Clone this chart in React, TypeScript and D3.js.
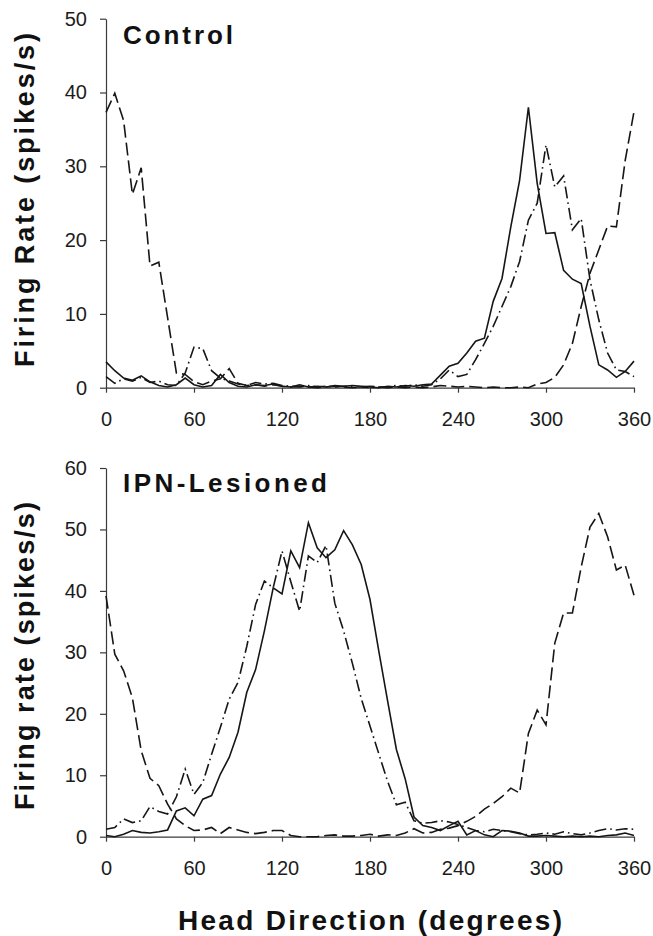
import React, { useRef, useEffect } from "react";
import * as d3 from "d3";

// head direction bins (degrees)
const degrees = [
  0, 6, 12, 18, 24, 30, 36, 42, 48, 54, 60, 66, 72, 78, 84, 90, 96, 102, 108, 114,
  120, 126, 132, 138, 144, 150, 156, 162, 168, 174, 180, 186, 192, 198, 204, 210, 216, 222, 228, 234,
  240, 246, 252, 258, 264, 270, 276, 282, 288, 294, 300, 306, 312, 318, 324, 330, 336, 342, 348, 354, 360,
];

// Control panel (spikes/s)
const controlSolid = [
  3.5, 2.3, 1.3, 1.0, 1.6, 0.8, 0.3, 0.1, 0.4, 1.3,
  0.4, 0.1, 0.3, 1.8, 0.7, 0.2, 0.1, 0.4, 0.3, 0.5,
  0.2, 0.1, 0.4, 0.1, 0.2, 0.1, 0.3, 0.2, 0.3, 0.2,
  0.1, 0.0, 0.2, 0.1, 0.3, 0.2, 0.4, 0.5, 1.7, 2.9,
  3.3, 4.7, 6.3, 6.7, 11.7, 14.8, 21.8, 28.1, 38.0, 27.7,
  20.9, 21.0, 15.9, 14.7, 14.1, 8.3, 3.1, 2.4, 1.4, 2.2,
  3.6,
];
const controlDashDot = [
  1.5, 0.6, 1.2, 0.9, 1.4, 0.7, 0.9, 0.4, 0.3, 2.0,
  5.5, 5.3, 2.3, 1.3, 0.9, 0.5, 0.3, 0.7, 0.5, 0.6,
  0.3, 0.2, 0.1, 0.3, 0.1, 0.2, 0.1, 0.2, 0.1, 0.1,
  0.0, 0.1, 0.1, 0.3, 0.2, 0.4, 0.2, 0.4, 1.2, 2.4,
  1.5, 1.8, 3.8, 6.0, 8.3, 11.0, 13.7, 17.1, 22.7, 25.0,
  32.9, 27.2, 28.7, 21.4, 22.9, 14.6, 9.2, 4.7, 2.4, 2.2,
  1.5,
];
const controlDashed = [
  37.3, 39.9, 36.2, 26.2, 29.8, 16.5, 17.0, 9.5, 2.0, 1.8,
  0.8, 0.4, 0.9, 1.2, 2.6, 0.6, 0.3, 0.4, 0.2, 0.4,
  0.2, 0.1, 0.2, 0.1, 0.0, 0.1, 0.2, 0.1, 0.0, 0.1,
  0.2, 0.1, 0.0, 0.1, 0.0, 0.1, 0.0, 0.1, 0.3, 0.2,
  0.1, 0.2, 0.1, 0.0, 0.1, 0.0, 0.0, 0.1, 0.0, 0.5,
  0.7, 1.4, 3.1, 6.0, 11.0, 15.5, 18.7, 21.9, 21.8, 30.8,
  37.4,
];

// IPN-lesioned panel (spikes/s)
const lesionSolid = [
  0.2, 0.0, 0.4, 1.0, 0.7, 0.6, 0.8, 1.1, 4.2, 4.7,
  3.4, 6.1, 6.7, 10.2, 12.9, 17.0, 23.5, 27.2, 33.5, 40.5,
  39.5, 46.5, 43.8, 51.1, 47.0, 45.4, 46.7, 49.8, 47.5, 44.3,
  38.6, 30.2, 22.1, 14.2, 9.4, 3.2, 1.8, 1.5, 1.0, 1.8,
  2.5, 0.3, 1.0, 0.3, 0.0, 1.0, 0.9, 0.6, 0.1, 0.1,
  0.2, 0.1, 0.0, 0.1, 0.0, 0.1, 0.0, 0.2, 0.3, 0.6,
  0.2,
];
const lesionDashDot = [
  1.2, 1.5, 2.9, 2.3, 2.6, 4.9, 4.1, 3.7, 6.5, 11.0,
  6.9, 8.8, 13.4, 17.8, 22.4, 25.1, 31.0, 37.8, 41.6, 40.5,
  46.5, 41.5, 36.7, 45.7, 44.6, 47.4, 38.0, 33.5, 28.2, 22.5,
  18.0, 13.5, 9.0, 5.2, 5.6, 2.6, 2.2, 2.3, 2.6, 2.4,
  2.0, 1.5, 1.0, 0.8, 1.2, 1.0, 0.8, 0.5, 0.3, 0.4,
  0.6, 0.4, 0.8, 0.5, 0.3, 0.6, 1.0, 1.3, 1.1, 1.3,
  1.2,
];
const lesionDashed = [
  39.2, 29.7, 27.0, 22.6, 14.0, 9.5, 8.3, 5.3, 2.9, 1.8,
  1.0, 1.1, 1.5, 0.5, 1.5, 1.1, 0.7, 0.5, 0.7, 1.0,
  1.0, 0.2, 0.0, 0.0, 0.0, 0.2, 0.3, 0.1, 0.1, 0.2,
  0.4, 0.1, 0.3, 0.2, 0.6, 1.3, 0.6, 0.7, 1.2, 1.4,
  1.8, 2.5, 3.3, 4.5, 5.4, 6.5, 7.9, 7.1, 16.8, 20.6,
  18.2, 31.5, 36.4, 36.4, 43.9, 50.4, 52.6, 48.8, 43.4, 44.2,
  39.3,
];

const xTicks = [0, 60, 120, 180, 240, 300, 360];
const controlYTicks = [0, 10, 20, 30, 40, 50];
const lesionYTicks = [0, 10, 20, 30, 40, 50, 60];

const FONT = "'Liberation Sans', Arial, Helvetica, sans-serif";
const INK = "#161616";
const DASHED = "13,5";
const DASH_DOT = "12,4,1.6,4";

const App = () => {
  const svgRef = useRef(null);

  useEffect(() => {
    const svg = d3.select(svgRef.current);
    svg.selectAll("*").remove();

    const xScale = d3.scaleLinear().domain([0, 360]).range([106, 634]);

    function drawPanel(opts) {
      const { yMax, yRange, yTicks, title, titleY, titleLen, yLabel, yLabelY, yLabelLen, series } = opts;
      const yScale = d3.scaleLinear().domain([0, yMax]).range(yRange);
      const g = svg.append("g");

      const xAxis = d3.axisBottom(xScale).tickValues(xTicks).tickSize(5).tickSizeOuter(0).tickPadding(19);
      const xg = g.append("g").attr("transform", "translate(0," + yRange[0] + ")").call(xAxis);

      const yAxis = d3.axisLeft(yScale).tickValues(yTicks).tickSize(6).tickSizeOuter(0).tickPadding(13);
      const yg = g.append("g").attr("transform", "translate(106,0)").call(yAxis);

      [xg, yg].forEach(a => {
        a.select(".domain").attr("stroke", "#3a3a3a").attr("stroke-width", 1.2);
        a.selectAll(".tick line").attr("stroke", "#3a3a3a").attr("stroke-width", 1.2);
        a.selectAll(".tick text")
          .attr("fill", "#1c1c1c")
          .style("font-family", FONT)
          .style("font-size", "20px");
      });

      const line = d3.line()
        .x((d, i) => xScale(degrees[i]))
        .y(d => yScale(d));

      series.forEach(s => {
        g.append("path")
          .datum(s.values)
          .attr("d", line)
          .attr("fill", "none")
          .attr("stroke", INK)
          .attr("stroke-width", 1.6)
          .attr("stroke-linejoin", "miter")
          .attr("stroke-dasharray", s.dash);
      });

      g.append("text")
        .attr("x", 123)
        .attr("y", titleY)
        .attr("textLength", titleLen)
        .attr("lengthAdjust", "spacing")
        .style("font-family", FONT)
        .style("font-weight", "bold")
        .style("font-size", "26px")
        .attr("fill", "#111")
        .text(title);

      g.append("text")
        .attr("transform", "translate(33.5," + yLabelY + ") rotate(-90)")
        .attr("text-anchor", "middle")
        .attr("textLength", yLabelLen)
        .attr("lengthAdjust", "spacing")
        .style("font-family", FONT)
        .style("font-weight", "bold")
        .style("font-size", "27px")
        .attr("fill", "#111")
        .text(yLabel);
    }

    drawPanel({
      yMax: 50,
      yRange: [387.7, 18.7],
      yTicks: controlYTicks,
      title: "Control",
      titleY: 43.5,
      titleLen: 110,
      yLabel: "Firing Rate (spikes/s)",
      yLabelY: 200,
      yLabelLen: 334,
      series: [
        { values: controlSolid, dash: null },
        { values: controlDashDot, dash: DASH_DOT },
        { values: controlDashed, dash: DASHED },
      ],
    });

    drawPanel({
      yMax: 60,
      yRange: [836.7, 468],
      yTicks: lesionYTicks,
      title: "IPN-Lesioned",
      titleY: 492,
      titleLen: 204,
      yLabel: "Firing rate (spikes/s)",
      yLabelY: 656,
      yLabelLen: 308,
      series: [
        { values: lesionSolid, dash: null },
        { values: lesionDashDot, dash: DASH_DOT },
        { values: lesionDashed, dash: DASHED },
      ],
    });

    svg.append("text")
      .attr("x", 370)
      .attr("y", 930)
      .attr("text-anchor", "middle")
      .attr("textLength", 384)
      .attr("lengthAdjust", "spacing")
      .style("font-family", FONT)
      .style("font-weight", "bold")
      .style("font-size", "28px")
      .attr("fill", "#111")
      .text("Head Direction (degrees)");
  }, []);

  return (
    <svg
      ref={svgRef}
      width={653}
      height={936}
      style={{ position: "absolute", left: 0, top: 0, background: "#fff" }}
    ></svg>
  );
};

export default App;
